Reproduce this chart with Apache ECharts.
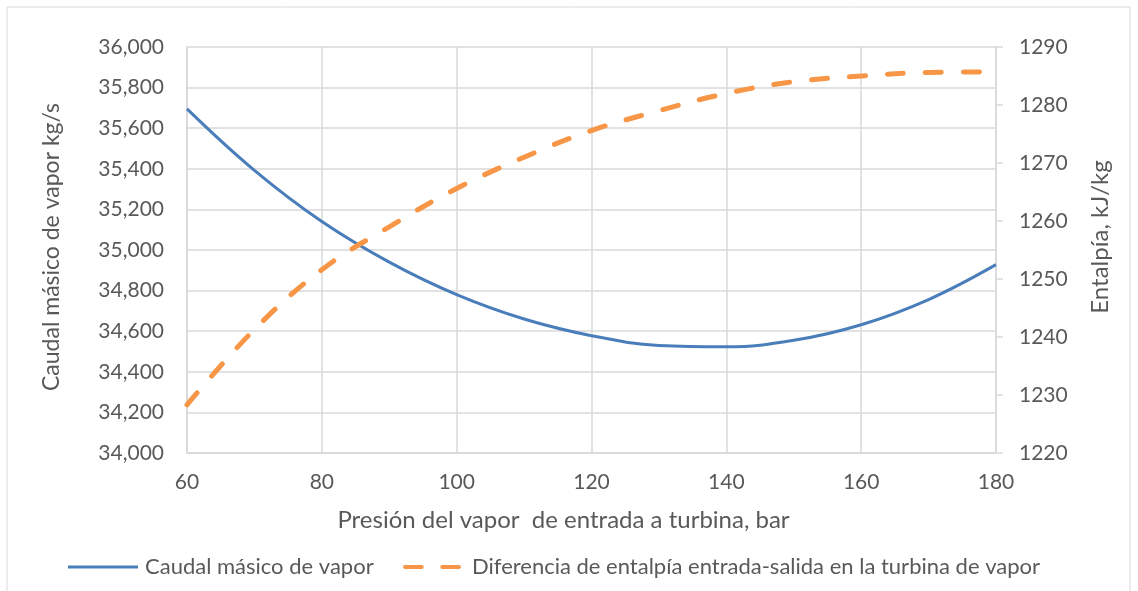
<!DOCTYPE html>
<html>
<head>
<meta charset="utf-8">
<script src="https://cdn.jsdelivr.net/npm/echarts@6/dist/echarts.min.js"></script>
<style>
  html, body { margin: 0; padding: 0; background: #fff; }
  #chart { width: 1138px; height: 591px; }
</style>
</head>
<body>
<div id="chart"></div>
<script>
// presión de entrada (bar)
var presion = [60, 70, 80, 90, 100, 110, 120, 130, 140, 150, 160, 170, 180]
// caudal másico de vapor (kg/s)
var caudal = [35695, 35392, 35140, 34940, 34780, 34660, 34578, 34530, 34523, 34555, 34632, 34756, 34928]
// diferencia de entalpía (kJ/kg)
var entalpia = [1228.3, 1241.3, 1251.6, 1259.0, 1265.6, 1271.0, 1275.6, 1279.0, 1282.0, 1284.0, 1285.0, 1285.6, 1285.7]

var serieCaudal = 'Caudal másico de vapor'
var serieEntalpia = 'Diferencia de entalpía entrada-salida en la turbina de vapor'

var textColor = '#595959'
var gridColor = '#d9d9d9'
var font = 'Lato, "Liberation Sans", sans-serif'

var chart = echarts.init(document.getElementById('chart'))
chart.setOption({
  animation: false,
  textStyle: { fontFamily: font },
  graphic: [
    {
      type: 'rect',
      shape: { x: 7, y: 7, width: 1123, height: 600 },
      style: { fill: 'none', stroke: '#d9d9d9', lineWidth: 1 },
      silent: true
    }
  ],
  grid: {
    left: 187,
    right: 142,
    top: 47,
    bottom: 138
  },
  legend: [
    {
      left: 68,
      top: 556,
      padding: 0,
      itemWidth: 70,
      itemHeight: 3,
      itemGap: 7,
      icon: 'rect',
      textStyle: { fontSize: 22, color: textColor, fontFamily: font, padding: [0, 0, 0, 2] },
      data: [serieCaudal]
    },
    {
      left: 403,
      top: 556,
      padding: 0,
      itemWidth: 58,
      itemHeight: 5,
      icon: 'path://M2,0h16a2,2 0 0 1 0,4h-16a2,2 0 0 1 0,-4z M38,0h16a2,2 0 0 1 0,4h-16a2,2 0 0 1 0,-4z',
      textStyle: { fontSize: 22, color: textColor, fontFamily: font, padding: [0, 0, 0, 6] },
      data: [serieEntalpia]
    }
  ],
  xAxis: {
    type: 'value',
    min: 60,
    max: 180,
    interval: 20,
    name: 'Presión del vapor  de entrada a turbina, bar',
    nameLocation: 'middle',
    nameGap: 55,
    nameTextStyle: { fontSize: 24, color: textColor, padding: [0, 56, 0, 0] },
    axisLine: { lineStyle: { color: gridColor, width: 1.5 } },
    axisTick: { show: false },
    axisLabel: { fontSize: 21, color: textColor, margin: 19 },
    splitLine: { show: true, lineStyle: { color: gridColor, width: 1.5 } }
  },
  yAxis: [
    {
      type: 'value',
      min: 34000,
      max: 36000,
      interval: 200,
      name: 'Caudal másico de vapor kg/s',
      nameLocation: 'middle',
      nameGap: 124,
      nameTextStyle: { fontSize: 23, color: textColor, padding: [0, 0, 0, 6] },
      axisLine: { show: true, lineStyle: { color: gridColor, width: 1.5 } },
      axisTick: { show: false },
      axisLabel: {
        fontSize: 21,
        color: textColor,
        margin: 23,
        formatter: function (v) {
          return v.toLocaleString('en-US')
        }
      },
      splitLine: { show: true, lineStyle: { color: gridColor, width: 1.5 } }
    },
    {
      type: 'value',
      min: 1220,
      max: 1290,
      interval: 10,
      position: 'right',
      name: 'Entalpía, kJ/kg',
      nameLocation: 'middle',
      nameGap: 92,
      nameRotate: 90,
      nameTextStyle: { fontSize: 24, color: textColor, padding: [0, 0, 0, 26] },
      axisLine: { show: true, lineStyle: { color: gridColor, width: 1.5 } },
      axisTick: { show: true, length: 7, lineStyle: { color: gridColor, width: 1.5 } },
      axisLabel: {
        fontSize: 21,
        color: textColor,
        margin: 23,
        formatter: function (v) {
          return String(v)
        }
      },
      splitLine: { show: false }
    }
  ],
  series: [
    {
      name: serieCaudal,
      type: 'line',
      yAxisIndex: 0,
      smooth: 0.4,
      showSymbol: false,
      symbol: 'none',
      lineStyle: { color: '#4a7ebb', width: 3 },
      itemStyle: { color: '#4a7ebb' },
      data: presion.map(function (p, i) { return [p, caudal[i]] })
    },
    {
      name: serieEntalpia,
      type: 'line',
      yAxisIndex: 1,
      smooth: 0.4,
      showSymbol: false,
      symbol: 'none',
      lineStyle: { color: '#f79646', width: 5, type: [16, 22], cap: 'round' },
      itemStyle: { color: '#f79646' },
      data: presion.map(function (p, i) { return [p, entalpia[i]] })
    }
  ]
})
</script>
</body>
</html>
